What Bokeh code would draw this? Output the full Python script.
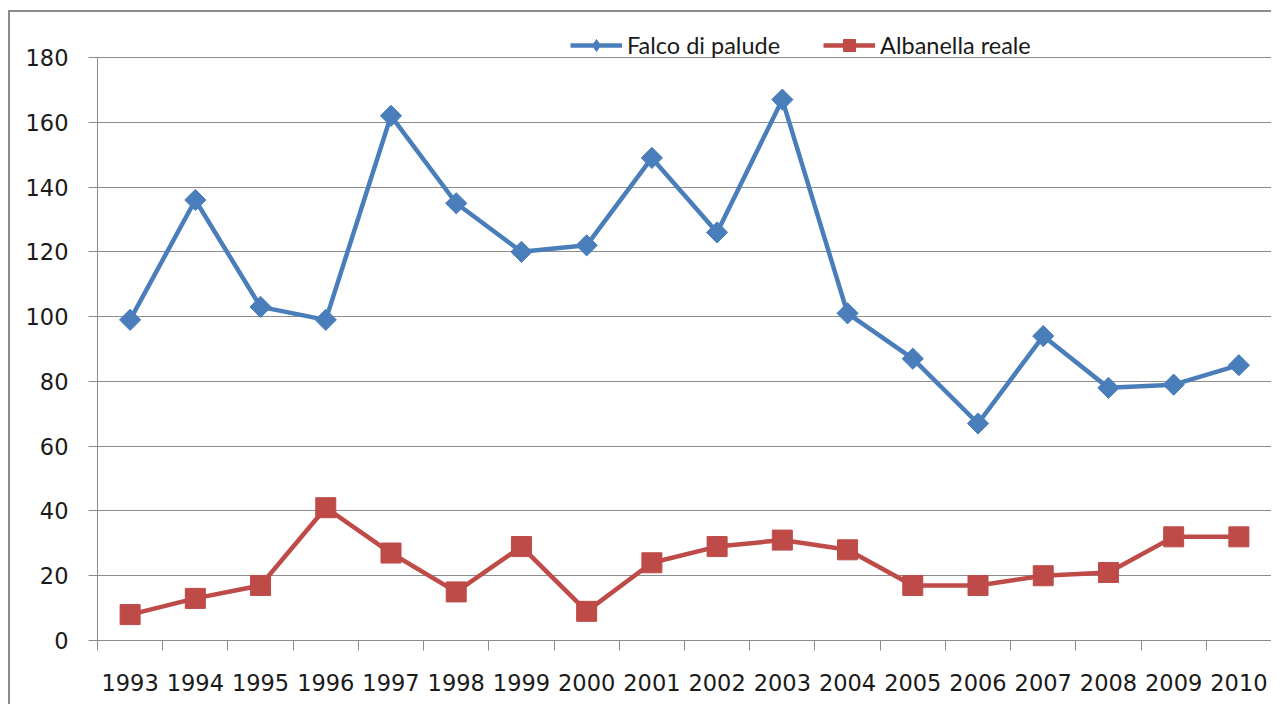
import math
from bokeh.plotting import figure
from bokeh.models import FixedTicker, Legend, LegendItem, Range1d
from bokeh.embed import file_html
from bokeh.resources import INLINE

years = [1993, 1994, 1995, 1996, 1997, 1998, 1999, 2000, 2001, 2002,
         2003, 2004, 2005, 2006, 2007, 2008, 2009, 2010]
falco = [99, 136, 103, 99, 162, 135, 120, 122, 149, 126,
         167, 101, 87, 67, 94, 78, 79, 85]
albanella = [8, 13, 17, 41, 27, 15, 29, 9, 24, 29,
             31, 28, 17, 17, 20, 21, 32, 32]
y_ticks = [0, 20, 40, 60, 80, 100, 120, 140, 160, 180]
series_names = ["Falco di palude", "Albanella reale"]

BLUE = "#4a7ebb"
RED = "#be4b48"
GRID = "#8c8c8c"

# layout (pixels): frame extends above the 180 line to host the legend
FRAME_TOP = 27
AXIS_TOP = 57
FRAME_BOTTOM = 640
H = 704
y_max = y_ticks[-1]
y_end = y_max * (FRAME_BOTTOM - FRAME_TOP) / (FRAME_BOTTOM - AXIS_TOP)

p = figure(width=1271, height=H, output_backend="svg", toolbar_location=None,
           x_range=Range1d(years[0] - 0.5, years[-1] + 0.5), y_range=Range1d(0, y_end),
           min_border_left=97, min_border_top=FRAME_TOP, min_border_right=0,
           min_border_bottom=H - FRAME_BOTTOM)
p.outline_line_color = None
p.border_fill_alpha = 0
p.styles = {"background": ("linear-gradient(#8c8c8c,#8c8c8c) 8px 10px / 2px 100% no-repeat, "
                           "linear-gradient(#8c8c8c,#8c8c8c) 8px 10px / 100% 2px no-repeat, white")}

# axes
p.xaxis.ticker = FixedTicker(ticks=years, minor_ticks=[y - 0.5 for y in years] + [years[-1] + 0.5])
p.xaxis.major_tick_line_color = None
p.xaxis.minor_tick_out = 10
p.xaxis.minor_tick_in = 0
p.xaxis.minor_tick_line_color = GRID
p.xaxis.axis_line_color = GRID
p.xaxis.major_label_standoff = 23
p.xaxis.major_label_text_font = "DejaVu Sans"
p.xaxis.major_label_text_font_size = "22.5px"
p.xaxis.major_label_text_color = "#1a1a1a"

p.yaxis.ticker = FixedTicker(ticks=y_ticks)
p.yaxis.bounds = (0, y_max)
p.yaxis.minor_tick_line_color = None
p.yaxis.major_tick_out = 9
p.yaxis.major_tick_in = 0
p.yaxis.major_tick_line_color = GRID
p.yaxis.axis_line_color = GRID
p.yaxis.major_label_standoff = 20
p.yaxis.major_label_text_font = "DejaVu Sans"
p.yaxis.major_label_text_font_size = "22.5px"
p.yaxis.major_label_text_color = "#1a1a1a"

p.xgrid.grid_line_color = None
p.ygrid.ticker = FixedTicker(ticks=y_ticks)
p.ygrid.grid_line_color = GRID
p.ygrid.grid_line_width = 1

l1 = p.line(years, falco, line_color=BLUE, line_width=4.5)
# upright diamond (hidden beneath the wider markers) used for the legend glyph
k1 = p.scatter(years, falco, marker="diamond", size=12, fill_color=BLUE, line_color=BLUE)
s1 = p.scatter(years, falco, marker="square", angle=math.pi / 4, size=15,
               fill_color=BLUE, line_color=BLUE)
l2 = p.line(years, albanella, line_color=RED, line_width=4.5)
s2 = p.scatter(years, albanella, marker="square", size=20,
               fill_color=RED, line_color=RED)

legend = Legend(items=[LegendItem(label=series_names[0], renderers=[l1, k1]),
                       LegendItem(label=series_names[1], renderers=[l2, s2])],
                orientation="horizontal", location=(473, FRAME_BOTTOM - 60),
                glyph_width=52, glyph_height=30, label_standoff=5, spacing=43,
                padding=0, margin=0, background_fill_alpha=0, border_line_color=None,
                label_text_font="Lato", label_text_font_size="23.5px",
                label_text_color="#1a1a1a")
p.add_layout(legend, "center")

open("out.html", "w").write(file_html(p, INLINE))
